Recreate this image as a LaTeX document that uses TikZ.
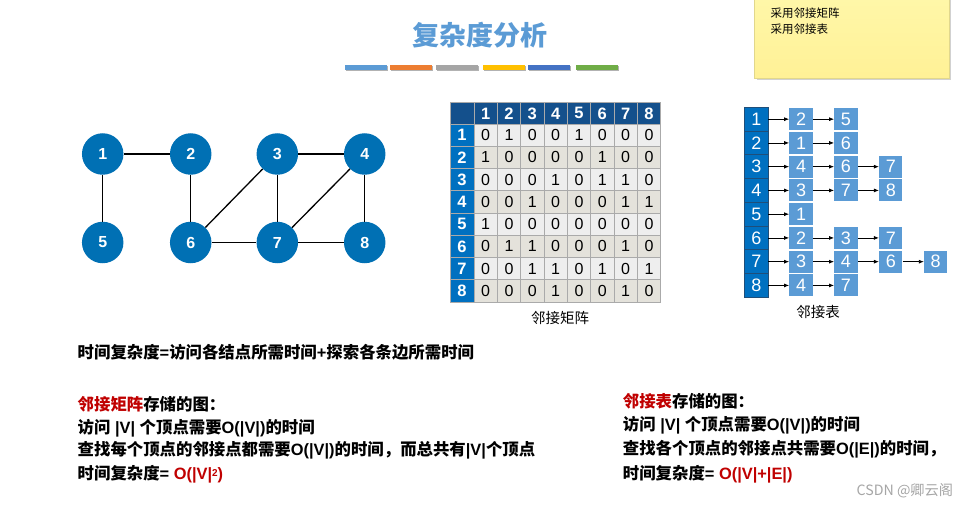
\documentclass[tikz,border=0pt]{standalone}
\usepackage{fontspec}
\setmainfont{Liberation Sans}
\newfontfamily\cjk{Noto Sans CJK SC}
\newfontfamily\lat{Liberation Sans}
\usetikzlibrary{arrows.meta}
\definecolor{gnode}{RGB}{0,112,180}
\definecolor{titleblue}{RGB}{91,155,213}
\definecolor{hdrdark}{RGB}{20,80,140}
\definecolor{hdrrow}{RGB}{0,112,192}
\definecolor{cellA}{RGB}{238,238,238}
\definecolor{cellB}{RGB}{228,226,219}
\definecolor{gridgray}{RGB}{170,170,170}
\definecolor{boxblue}{RGB}{91,155,213}
\definecolor{lcol}{RGB}{0,112,192}
\definecolor{lborder}{RGB}{31,78,121}
\definecolor{redtxt}{RGB}{192,0,0}
\definecolor{cOne}{RGB}{91,155,213}
\definecolor{cTwo}{RGB}{237,125,49}
\definecolor{cThree}{RGB}{165,165,165}
\definecolor{cFour}{RGB}{255,192,0}
\definecolor{cFive}{RGB}{68,114,196}
\definecolor{cSix}{RGB}{112,173,71}
\tikzset{
  gv/.style={circle,fill=gnode,minimum size=41.5pt,inner sep=0pt,text=white,font=\bfseries\fontsize{16}{18}\selectfont},
  gedge/.style={line width=1.3pt,black},
  mcell/.style={draw=gridgray,line width=0.6pt,minimum width=23.33pt,minimum height=22.25pt,inner sep=0pt,font=\fontsize{16}{18}\selectfont},
  mhead/.style={draw=gridgray,line width=0.6pt,fill=hdrdark,text=white,inner sep=0pt,font=\bfseries\fontsize{16.5}{18}\selectfont},
  mrow/.style={draw=gridgray,line width=0.6pt,fill=hdrrow,text=white,minimum width=24pt,minimum height=22.25pt,inner sep=0pt,font=\bfseries\fontsize{16.5}{18}\selectfont},
  lcell/.style={draw=lborder,line width=0.8pt,fill=lcol,text=white,minimum width=23.3pt,minimum height=23.75pt,inner sep=0pt,font=\fontsize{18}{20}\selectfont},
  lbox/.style={fill=boxblue,text=white,minimum width=23.3pt,minimum height=22pt,inner sep=0pt,font=\fontsize{18}{20}\selectfont},
  larr/.style={-{Latex[length=5pt,width=4pt]},line width=0.8pt,black},
  txt/.style={anchor=west,inner sep=0pt,font=\cjk\bfseries\fontsize{16.4}{19}\selectfont},
}
\begin{document}
\begin{tikzpicture}[x=1pt,y=-1pt]
\useasboundingbox[fill=white] (0,0) rectangle (970,508);

% title
\node[text=titleblue,font=\cjk\bfseries\fontsize{27}{30}\selectfont] (title) at (480,35) {复杂度分析};
% colour bars
\foreach \c/\xa in {cOne/345,cTwo/390,cThree/436,cFour/483,cFive/528,cSix/576}{
  \fill[black!30] (\xa+1,66.5) rectangle (\xa+42.5,71.5);
  \fill[\c] (\xa,65) rectangle (\xa+41.5,70);
}

% sticky note
\fill[black!18] (756.5,0) rectangle (951,80.5);
\shade[top color={rgb,255:red,255;green,247;blue,168},bottom color={rgb,255:red,255;green,241;blue,150}] (754,-1) rectangle (949,78.3);
\draw[line width=0.5pt,color={rgb,255:red,225;green,215;blue,140}] (754,-1) rectangle (949,78.3);
\node[anchor=west,inner sep=0pt,font=\cjk\fontsize{11.5}{13}\selectfont] (n1) at (770.5,13.5) {采用邻接矩阵};
\node[anchor=west,inner sep=0pt,font=\cjk\fontsize{11.5}{13}\selectfont] (n2) at (770.5,29.5) {采用邻接表};

% graph
\node[gv] (v1) at (102.7,154) {1};
\node[gv] (v2) at (190.7,154) {2};
\node[gv] (v3) at (277.3,154) {3};
\node[gv] (v4) at (364.7,154) {4};
\node[gv] (v5) at (102.7,242.5) {5};
\node[gv] (v6) at (190.7,242.5) {6};
\node[gv] (v7) at (277.3,242.5) {7};
\node[gv] (v8) at (364.7,242.5) {8};
\foreach \a/\b in {1/2,1/5,2/6,3/4,3/6,3/7,4/7,4/8,6/7,7/8}
  \draw[gedge] (v\a) -- (v\b);

% adjacency matrix
\node[mhead,minimum width=24pt,minimum height=21.3pt] (h0) at (462,113.35) {};
\foreach \j in {1,...,8}
  \node[mhead,minimum width=23.33pt,minimum height=21.3pt] (h\j) at ({474+23.33*(\j-0.5)},113.35) {\j};
\foreach \r [count=\i] in {{0,1,0,0,1,0,0,0},{1,0,0,0,0,1,0,0},{0,0,0,1,0,1,1,0},{0,0,1,0,0,0,1,1},{1,0,0,0,0,0,0,0},{0,1,1,0,0,0,1,0},{0,0,1,1,0,1,0,1},{0,0,0,1,0,0,1,0}}{
  \node[mrow] (r\i) at (462,{124+22.25*(\i-0.5)}) {\i};
  \ifodd\i \def\cf{cellA}\else\def\cf{cellB}\fi
  \foreach \v [count=\j] in \r
    \node[mcell,fill=\cf] (m\i-\j) at ({474+23.33*(\j-0.5)},{124+22.25*(\i-0.5)}) {\v};
}
\node[font=\cjk\fontsize{14.5}{16}\selectfont] (mcap) at (560,317.5) {邻接矩阵};

% adjacency list
\foreach \lst [count=\i] in {{2,5},{1,6},{4,6,7},{3,7,8},{1},{2,3,7},{3,4,6,8},{4,7}}{
  \node[lcell] (l\i) at (756.35,{107.3+23.75*(\i-0.5)}) {\i};
  \foreach \v [count=\k] in \lst {
    \node[lbox] (a\i-\k) at ({801+44.9*(\k-1)},{107.3+23.75*(\i-0.5)}) {\v};
    \ifnum\k=1
      \draw[larr] (l\i) -- (a\i-\k);
    \else
      \pgfmathtruncatemacro\pk{\k-1}
      \draw[larr] (a\i-\pk) -- (a\i-\k);
    \fi
  }
}
\node[font=\cjk\fontsize{14.5}{16}\selectfont] (lcap) at (818,311.5) {邻接表};

% text left
\node[txt] (t0) at (77.5,352.7) {时间复杂度{\lat=}访问各结点所需时间{\lat+}探索各条边所需时间};
\node[txt] (t1) at (77.5,404) {\textcolor{redtxt}{邻接矩阵}存储的图：};
\node[txt] (t2) at (77.5,428.3) {访问{\lat\ |V| }个顶点需要{\lat O(|V|)}的时间};
\node[txt] (t3) at (77.5,450.7) {查找每个顶点的邻接点都需要{\lat O(|V|)}的时间，而总共有{\lat |V|}个顶点};
\node[txt] (t4) at (77.5,474) {时间复杂度{\lat= }\textcolor{redtxt}{\lat O(|V|{\fontsize{10}{10}\selectfont\raisebox{0.45ex}{2}})}};

% text right
\node[txt] (s1) at (622.7,401) {\textcolor{redtxt}{邻接表}存储的图：};
\node[txt] (s2) at (622.7,425.7) {访问{\lat\ |V| }个顶点需要{\lat O(|V|)}的时间};
\node[txt] (s3) at (622.7,449) {查找各个顶点的邻接点共需要{\lat O(|E|)}的时间，};
\node[txt] (s4) at (622.7,474.3) {时间复杂度{\lat= }\textcolor{redtxt}{\lat O(|V|+|E|)}};

% watermark
\node[anchor=west,inner sep=0pt,text=black!35,font=\cjk\fontsize{14.2}{16}\selectfont] (wm) at (856.5,490.5) {CSDN @卿云阁};
\end{tikzpicture}
\end{document}
